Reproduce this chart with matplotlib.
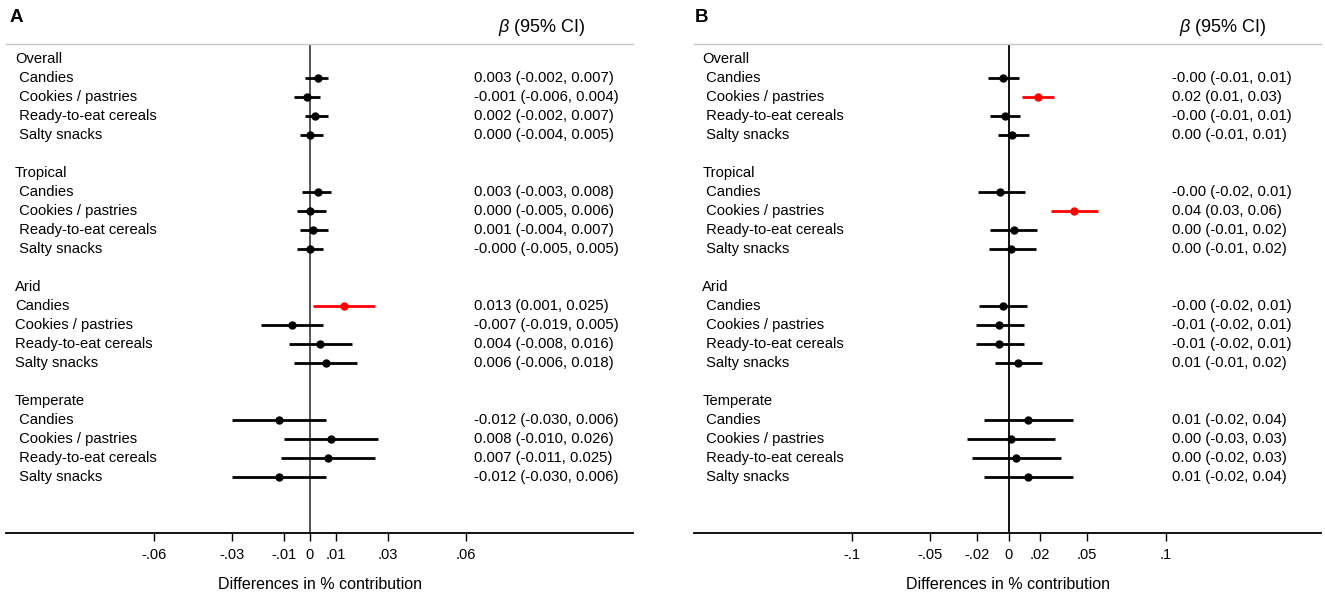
import numpy as np
import matplotlib
matplotlib.use('Agg')
import matplotlib.pyplot as plt
import matplotlib.transforms as mtransforms

plt.rcParams['font.family'] = ['Liberation Sans', 'DejaVu Sans']
plt.rcParams['mathtext.fontset'] = 'custom'
plt.rcParams['mathtext.it'] = 'Liberation Sans:italic'
plt.rcParams['mathtext.rm'] = 'Liberation Sans'

groups = ['Overall', 'Tropical', 'Arid', 'Temperate']
foods = ['Candies', 'Cookies / pastries', 'Ready-to-eat cereals', 'Salty snacks']

# panel A: beta and 95% CI per group x food
est_a = [0.003, -0.001, 0.002, 0.000,
         0.003, 0.000, 0.001, -0.000,
         0.013, -0.007, 0.004, 0.006,
         -0.012, 0.008, 0.007, -0.012]
lo_a = [-0.002, -0.006, -0.002, -0.004,
        -0.003, -0.005, -0.004, -0.005,
        0.001, -0.019, -0.008, -0.006,
        -0.030, -0.010, -0.011, -0.030]
hi_a = [0.007, 0.004, 0.007, 0.005,
        0.008, 0.006, 0.007, 0.005,
        0.025, 0.005, 0.016, 0.018,
        0.006, 0.026, 0.025, 0.006]
txt_a = ['0.003 (-0.002, 0.007)', '-0.001 (-0.006, 0.004)', '0.002 (-0.002, 0.007)', '0.000 (-0.004, 0.005)',
         '0.003 (-0.003, 0.008)', '0.000 (-0.005, 0.006)', '0.001 (-0.004, 0.007)', '-0.000 (-0.005, 0.005)',
         '0.013 (0.001, 0.025)', '-0.007 (-0.019, 0.005)', '0.004 (-0.008, 0.016)', '0.006 (-0.006, 0.018)',
         '-0.012 (-0.030, 0.006)', '0.008 (-0.010, 0.026)', '0.007 (-0.011, 0.025)', '-0.012 (-0.030, 0.006)']
sig_a = [0, 0, 0, 0, 0, 0, 0, 0, 1, 0, 0, 0, 0, 0, 0, 0]
indent_a = [1, 1, 0, 1]

# panel B: plotted values, text is the rounded version
est_b = [-0.0038, 0.0187, -0.0025, 0.0025,
         -0.0053, 0.0418, 0.0032, 0.0017,
         -0.0038, -0.0059, -0.0059, 0.0060,
         0.0122, 0.0014, 0.0049, 0.0122]
lo_b = [-0.0131, 0.0089, -0.0117, -0.0064,
        -0.0195, 0.0270, -0.0117, -0.0123,
        -0.0185, -0.0206, -0.0206, -0.0085,
        -0.0155, -0.0266, -0.0231, -0.0155]
hi_b = [0.0064, 0.0287, 0.0075, 0.0132,
        0.0102, 0.0567, 0.0181, 0.0174,
        0.0117, 0.0100, 0.0100, 0.0213,
        0.0413, 0.0299, 0.0334, 0.0413]
txt_b = ['-0.00 (-0.01, 0.01)', '0.02 (0.01, 0.03)', '-0.00 (-0.01, 0.01)', '0.00 (-0.01, 0.01)',
         '-0.00 (-0.02, 0.01)', '0.04 (0.03, 0.06)', '0.00 (-0.01, 0.02)', '0.00 (-0.01, 0.02)',
         '-0.00 (-0.02, 0.01)', '-0.01 (-0.02, 0.01)', '-0.01 (-0.02, 0.01)', '0.01 (-0.01, 0.02)',
         '0.01 (-0.02, 0.04)', '0.00 (-0.03, 0.03)', '0.00 (-0.02, 0.03)', '0.01 (-0.02, 0.04)']
sig_b = [0, 1, 0, 0, 0, 1, 0, 0, 0, 0, 0, 0, 0, 0, 0, 0]
indent_b = [1, 1, 1, 1]

ticks_a = [-0.06, -0.03, -0.01, 0, 0.01, 0.03, 0.06]
ticklab_a = ['-.06', '-.03', '-.01', '0', '.01', '.03', '.06']
ticks_b = [-0.1, -0.05, -0.02, 0, 0.02, 0.05, 0.1]
ticklab_b = ['-.1', '-.05', '-.02', '0', '.02', '.05', '.1']

W, H = 1325, 595
fig = plt.figure(figsize=(W / 100, H / 100), dpi=100)


def px_axes(x0, x1, y0, y1):
    return fig.add_axes([x0 / W, 1 - y1 / H, (x1 - x0) / W, (y1 - y0) / H])


def panel(ax, est, lo, hi, txt, sig, indent, xlim, ticks, ticklab, zero_col, lab_x, val_x):
    ax.set_xlim(xlim)
    ax.set_ylim(24.95, -0.79)
    ax.axvline(0, color=zero_col, lw=1.4, zorder=1)
    tr = mtransforms.blended_transform_factory(ax.transAxes, ax.transData)
    for g, grp in enumerate(groups):
        r0 = g * 6
        ax.text(lab_x, r0, grp, transform=tr, ha='left', va='center', fontsize=10.6)
        for f, food in enumerate(foods):
            i = g * 4 + f
            row = r0 + f + 1
            lab = (' ' + food) if indent[g] else food
            ax.text(lab_x, row, lab, transform=tr, ha='left', va='center', fontsize=10.6)
            col = 'red' if sig[i] else 'black'
            ax.plot([lo[i], hi[i]], [row, row], color=col, lw=2, solid_capstyle='butt', zorder=2)
            ax.plot(est[i], row, 'o', color=col, ms=5, zorder=3)
            ax.text(val_x, row, txt[i], transform=tr, ha='left', va='center', fontsize=10.7)
    for s in ['left', 'right']:
        ax.spines[s].set_visible(False)
    ax.spines['top'].set_color('#c8c8c8')
    ax.spines['top'].set_linewidth(1.0)
    ax.spines['bottom'].set_linewidth(1.3)
    ax.set_yticks([])
    ax.set_xticks(ticks)
    ax.set_xticklabels(ticklab, fontsize=10.5)
    ax.tick_params(axis='x', direction='out', length=6, width=1, pad=4.5)
    ax.set_xlabel('Differences in % contribution', fontsize=11.5, labelpad=11)


ax_a = px_axes(6, 633, 44, 533)
panel(ax_a, est_a, lo_a, hi_a, txt_a, sig_a, indent_a,
      (-304 / 2600, 323 / 2600), ticks_a, ticklab_a, '#555555', 0.014, 0.747)

ax_b = px_axes(694, 1321, 44, 533)
panel(ax_b, est_b, lo_b, hi_b, txt_b, sig_b, indent_b,
      (-314.5 / 1570, 312.5 / 1570), ticks_b, ticklab_b, '#111111', 0.013, 0.763)

fig.text(10 / W, 1 - 18 / H, 'A', fontsize=13.5, fontweight='bold', ha='left', va='center')
fig.text(695 / W, 1 - 18 / H, 'B', fontsize=13.5, fontweight='bold', ha='left', va='center')
fig.text(542 / W, 1 - 27 / H, r'$\beta$ (95% CI)', fontsize=13, ha='center', va='center')
fig.text(1223 / W, 1 - 27 / H, r'$\beta$ (95% CI)', fontsize=13, ha='center', va='center')

fig.savefig('out.png', dpi=100)
